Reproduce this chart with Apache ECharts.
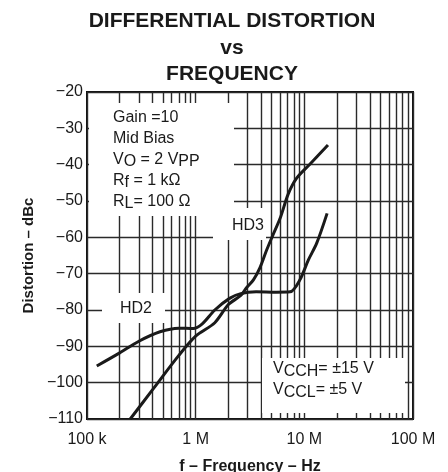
<!DOCTYPE html>
<html>
<head>
<meta charset="utf-8">
<script src="https://cdn.jsdelivr.net/npm/echarts@6/dist/echarts.min.js"></script>
<style>
  html, body { margin: 0; padding: 0; background: #fff; }
  #chart { width: 448px; height: 472px; }
</style>
</head>
<body>
<div id="chart"></div>
<script>
// frequency (Hz) / distortion (dBc)
var hd2Freq = [123e3, 200e3, 300e3, 470e3, 700e3, 950e3, 1.15e6, 1.5e6, 2.05e6, 2.6e6, 3.6e6, 5.5e6, 7.4e6, 9.1e6, 10.9e6, 13e6, 16.2e6]
var hd2Db   = [-95.4, -91.8, -88.6, -86, -85, -85.1, -83.8, -80, -76.8, -75.5, -75, -75.1, -75, -71.7, -66.2, -61.6, -53.4]
var hd3Freq = [250e3, 400e3, 700e3, 1e6, 1.5e6, 2e6, 2.6e6, 2.95e6, 3.4e6, 3.9e6, 4.5e6, 5.1e6, 6e6, 7.1e6, 8.5e6, 11.3e6, 16.5e6]
var hd3Db   = [-110, -102, -92.5, -87.2, -83.5, -78.5, -76, -73.8, -71.7, -68.4, -63.5, -59.6, -54.7, -48.1, -43.7, -39.8, -34.6]

var xTickLabels = {100000: '100 k', 1000000: '1 M', 10000000: '10 M', 100000000: '100 M'}
var decades = [1e5, 1e6, 1e7]
var minorSteps = [2, 3, 4, 5, 6, 7, 8, 9]

var FONT = 'Liberation Sans'
var gridColor = '#2a2a2a'

function pairs(xs, ys) {
    return xs.map(function (x, i) { return [x, ys[i]] })
}

var minorLines = []
decades.forEach(function (d) {
    minorSteps.forEach(function (k) { minorLines.push({xAxis: k * d}) })
})

var subRich = {
    n: {fontFamily: FONT, fontSize: 16, lineHeight: 21, verticalAlign: 'middle'},
    s: {fontFamily: FONT, fontSize: 16, lineHeight: 13, verticalAlign: 'bottom'}
}

var myChart = echarts.init(document.getElementById('chart'))

var option = {
    animation: false,
    title: {
        text: 'DIFFERENTIAL DISTORTION\nvs\nFREQUENCY',
        left: 227,
        top: 3,
        textAlign: 'center',
        textStyle: {
            fontFamily: FONT,
            fontWeight: 'bold',
            fontSize: 21,
            lineHeight: 26.5,
            color: '#1a1a1a'
        }
    },
    grid: {
        left: 87,
        right: 35,
        top: 92,
        bottom: 53,
        outerBoundsMode: 'none',
        containLabel: false,
        show: true,
        borderColor: '#111',
        borderWidth: 2
    },
    xAxis: {
        type: 'log',
        logBase: 10,
        min: 1e5,
        max: 1e8,
        name: 'f – Frequency – Hz',
        nameLocation: 'middle',
        nameGap: 40,
        nameTextStyle: {fontFamily: FONT, fontWeight: 'bold', fontSize: 16, color: '#1a1a1a'},
        axisLine: {show: false},
        axisTick: {show: false},
        axisLabel: {
            fontFamily: FONT,
            fontSize: 16,
            color: '#1a1a1a',
            margin: 13,
            formatter: function (v) { return xTickLabels[Math.round(v)] || '' }
        },
        splitLine: {show: true, lineStyle: {color: gridColor, width: 1.4}}
    },
    yAxis: {
        type: 'value',
        min: -110,
        max: -20,
        interval: 10,
        name: 'Distortion – dBc',
        nameLocation: 'middle',
        nameGap: 50,
        nameTextStyle: {fontFamily: FONT, fontWeight: 'bold', fontSize: 15, color: '#1a1a1a'},
        axisLine: {show: false},
        axisTick: {show: false},
        axisLabel: {
            fontFamily: FONT,
            fontSize: 16,
            color: '#1a1a1a',
            margin: 4,
            formatter: function (v) { return String(v).replace('-', '\u2212') }
        },
        splitLine: {show: true, lineStyle: {color: gridColor, width: 1.4}}
    },
    graphic: [
        // white boxes behind the annotations, they hide the grid
        {type: 'rect', z: 1, shape: {x: 89, y: 103, width: 145, height: 113}, style: {fill: '#fff'}},
        {type: 'rect', z: 1, shape: {x: 213, y: 208, width: 53, height: 32}, style: {fill: '#fff'}},
        {type: 'rect', z: 1, shape: {x: 102, y: 293, width: 63, height: 30}, style: {fill: '#fff'}},
        {type: 'rect', z: 1, shape: {x: 262, y: 358, width: 143, height: 55}, style: {fill: '#fff'}},
        {
            type: 'text', z: 2, left: 113, top: 107,
            style: {
                text: 'Gain =10\nMid Bias\n{n|V}{s|O}{n| = 2 V}{s|PP}\n{n|R}{s|f}{n| = 1 kΩ}\n{n|R}{s|L}{n|= 100 Ω}',
                font: '16px ' + FONT,
                fill: '#1a1a1a',
                lineHeight: 21,
                rich: subRich
            }
        },
        {type: 'text', z: 2, left: 232, top: 218, style: {text: 'HD3', font: '16px ' + FONT, fill: '#1a1a1a'}},
        {type: 'text', z: 2, left: 120, top: 301, style: {text: 'HD2', font: '16px ' + FONT, fill: '#1a1a1a'}},
        {
            type: 'text', z: 2, left: 273, top: 361,
            style: {
                text: '{n|V}{s|CCH}{n|= ±15 V}\n{n|V}{s|CCL}{n|= ±5 V}',
                font: '16px ' + FONT,
                fill: '#1a1a1a',
                rich: subRich
            }
        }
    ],
    series: [
        {
            // only carries the 2..9 grid lines of each decade
            type: 'line',
            data: [],
            z: 0,
            silent: true,
            markLine: {
                z: 0,
                silent: true,
                symbol: ['none', 'none'],
                label: {show: false},
                lineStyle: {color: gridColor, width: 1.4, type: 'solid'},
                emphasis: {disabled: true},
                data: minorLines
            }
        },
        {
            name: 'HD2',
            type: 'line',
            z: 3,
            data: pairs(hd2Freq, hd2Db),
            smooth: 0.3,
            showSymbol: false,
            lineStyle: {color: '#1a1a1a', width: 3}
        },
        {
            name: 'HD3',
            type: 'line',
            z: 3,
            data: pairs(hd3Freq, hd3Db),
            smooth: 0.3,
            showSymbol: false,
            lineStyle: {color: '#1a1a1a', width: 3}
        }
    ]
}
myChart.setOption(option)
</script>
</body>
</html>
